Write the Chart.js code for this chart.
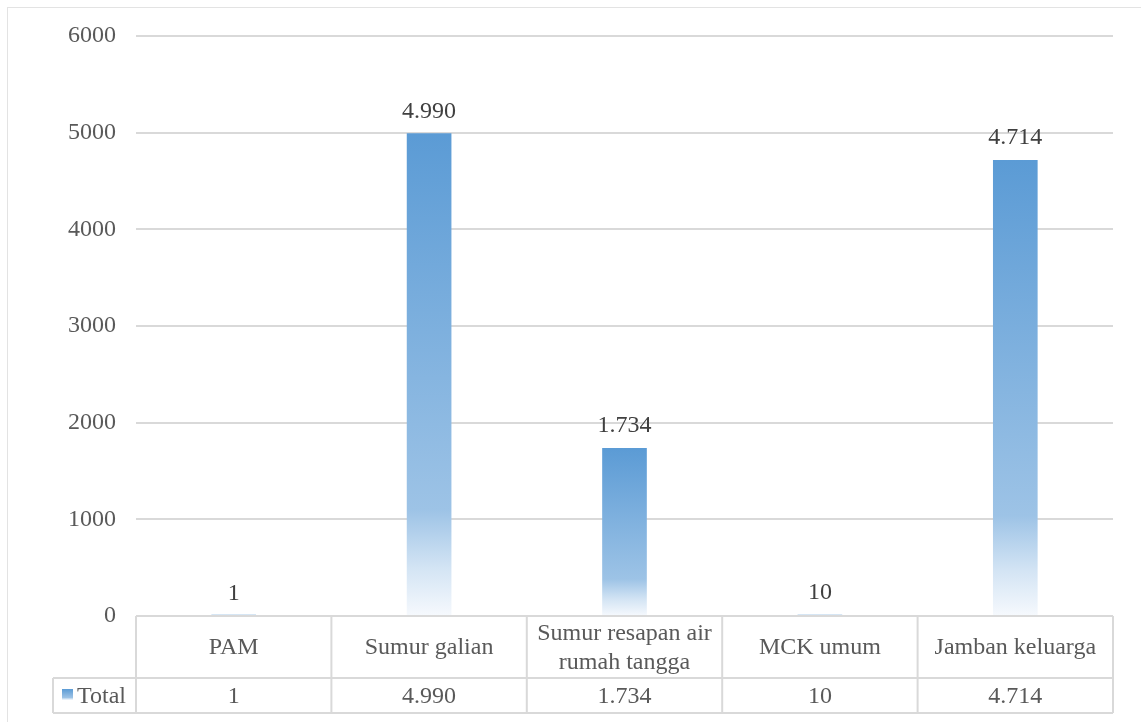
<!DOCTYPE html>
<html>
<head>
<meta charset="utf-8">
<script src="https://cdn.jsdelivr.net/npm/chart.js@4.4.1/dist/chart.umd.min.js"></script>
<style>
  html, body { margin: 0; padding: 0; background: #ffffff; }
  #wrap { width: 1141px; height: 722px; position: relative; overflow: hidden; }
  canvas { display: block; }
</style>
</head>
<body>
<div id="wrap"><canvas id="chart" width="1141" height="722"></canvas></div>
<script>
// Sanitation facilities per category
const categories = ['PAM', 'Sumur galian', 'Sumur resapan air rumah tangga', 'MCK umum', 'Jamban keluarga'];
const totals = [1, 4990, 1734, 10, 4714];
const seriesName = 'Total';
const yTicks = [0, 1000, 2000, 3000, 4000, 5000, 6000];

const FONT = '"Liberation Serif", "Times New Roman", serif';
const FONT_SIZE = 24;
const TEXT = '#595959';
const LABEL = '#404040';
const LINE = '#D9D9D9';
const TABLE_HEADER_H = 62;
const TABLE_ROW_H = 35;
const LEGEND_COL_W = 83;

// Indonesian number format: 4990 -> "4.990"
function fmt(v) {
  return String(v).replace(/\B(?=(\d{3})+(?!\d))/g, '.');
}

function fadeGradient(ctx, top, bottom) {
  const g = ctx.createLinearGradient(0, top, 0, Math.max(bottom, top + 0.01));
  g.addColorStop(0, '#5B9BD5');
  g.addColorStop(0.78, '#9DC3E6');
  g.addColorStop(0.9, '#D3E4F4');
  g.addColorStop(1, '#F6F9FD');
  return g;
}

// Outer frame of the chart
const framePlugin = {
  id: 'frame',
  beforeDraw(chart) {
    const ctx = chart.ctx;
    ctx.save();
    ctx.strokeStyle = '#E3E3E3';
    ctx.lineWidth = 1;
    ctx.strokeRect(7.5, 7.5, 3000, 3000);
    ctx.restore();
  }
};

// Value labels above the bars
const valueLabels = {
  id: 'valueLabels',
  afterDatasetsDraw(chart) {
    const ctx = chart.ctx;
    const meta = chart.getDatasetMeta(0);
    ctx.save();
    ctx.font = FONT_SIZE + 'px ' + FONT;
    ctx.fillStyle = LABEL;
    ctx.textAlign = 'center';
    ctx.textBaseline = 'alphabetic';
    meta.data.forEach((bar, i) => {
      ctx.fillText(fmt(chart.data.datasets[0].data[i]), bar.x, bar.y - 16);
    });
    ctx.restore();
  }
};

function wrapText(ctx, text, maxW) {
  const words = text.split(' ');
  const lines = [];
  let cur = '';
  words.forEach(w => {
    const test = cur ? cur + ' ' + w : w;
    if (ctx.measureText(test).width > maxW && cur) {
      lines.push(cur);
      cur = w;
    } else {
      cur = test;
    }
  });
  if (cur) lines.push(cur);
  return lines;
}

// Data table under the plot area
const dataTable = {
  id: 'dataTable',
  afterDraw(chart) {
    const ctx = chart.ctx;
    const area = chart.chartArea;
    const n = chart.data.labels.length;
    const colW = (area.right - area.left) / n;
    const top = area.bottom;
    const mid = top + TABLE_HEADER_H;
    const bottom = mid + TABLE_ROW_H;
    const legendLeft = area.left - LEGEND_COL_W;

    ctx.save();
    ctx.strokeStyle = LINE;
    ctx.lineWidth = 2;
    ctx.beginPath();
    // horizontal rules
    ctx.moveTo(area.left, top); ctx.lineTo(area.right, top);
    ctx.moveTo(legendLeft, mid); ctx.lineTo(area.right, mid);
    ctx.moveTo(legendLeft, bottom); ctx.lineTo(area.right, bottom);
    // vertical rules
    ctx.moveTo(legendLeft, mid); ctx.lineTo(legendLeft, bottom);
    for (let i = 0; i <= n; i++) {
      const x = area.left + i * colW;
      ctx.moveTo(x, top); ctx.lineTo(x, bottom);
    }
    ctx.stroke();

    ctx.font = FONT_SIZE + 'px ' + FONT;
    ctx.fillStyle = TEXT;
    ctx.textAlign = 'center';
    ctx.textBaseline = 'middle';
    const lineH = 29;
    chart.data.labels.forEach((label, i) => {
      const cx = area.left + (i + 0.5) * colW;
      const lines = wrapText(ctx, label, colW - 12);
      const cy = top + TABLE_HEADER_H / 2 + 1;
      lines.forEach((ln, k) => {
        ctx.fillText(ln, cx, cy + (k - (lines.length - 1) / 2) * lineH);
      });
      ctx.fillText(fmt(chart.data.datasets[0].data[i]), cx, mid + TABLE_ROW_H / 2 + 1);
    });

    // legend key + series name
    const keyX = legendLeft + 9, keyY = mid + 11, keyS = 11;
    ctx.fillStyle = fadeGradient(ctx, keyY, keyY + keyS);
    ctx.fillRect(keyX, keyY, keyS, keyS);
    ctx.fillStyle = TEXT;
    ctx.textAlign = 'left';
    ctx.fillText(chart.data.datasets[0].label, keyX + keyS + 4, mid + TABLE_ROW_H / 2 + 1);
    ctx.restore();
  }
};

new Chart(document.getElementById('chart'), {
  type: 'bar',
  data: {
    labels: categories,
    datasets: [{
      label: seriesName,
      data: totals,
      barThickness: 44,
      borderWidth: 0,
      backgroundColor(c) {
        const chart = c.chart;
        if (!chart.chartArea || c.raw === undefined) return '#5B9BD5';
        const y = chart.scales.y;
        return fadeGradient(chart.ctx, y.getPixelForValue(c.raw), y.getPixelForValue(0));
      }
    }]
  },
  options: {
    responsive: false,
    devicePixelRatio: 1,
    animation: false,
    layout: { padding: { top: 36, right: 28, left: 0, bottom: 0 } },
    plugins: {
      legend: { display: false },
      tooltip: { enabled: false }
    },
    scales: {
      x: {
        grid: { display: false, drawTicks: false },
        border: { display: false },
        ticks: { display: false },
        afterFit(s) { s.height = TABLE_HEADER_H + TABLE_ROW_H + 9; }
      },
      y: {
        min: yTicks[0],
        max: yTicks[yTicks.length - 1],
        ticks: {
          stepSize: yTicks[1] - yTicks[0],
          padding: 20,
          color: TEXT,
          font: { family: FONT, size: FONT_SIZE },
          callback: v => String(v)
        },
        grid: { color: LINE, lineWidth: 2, drawTicks: false },
        border: { display: false },
        afterFit(s) { s.width = 136; }
      }
    }
  },
  plugins: [framePlugin, valueLabels, dataTable]
});
</script>
</body>
</html>
